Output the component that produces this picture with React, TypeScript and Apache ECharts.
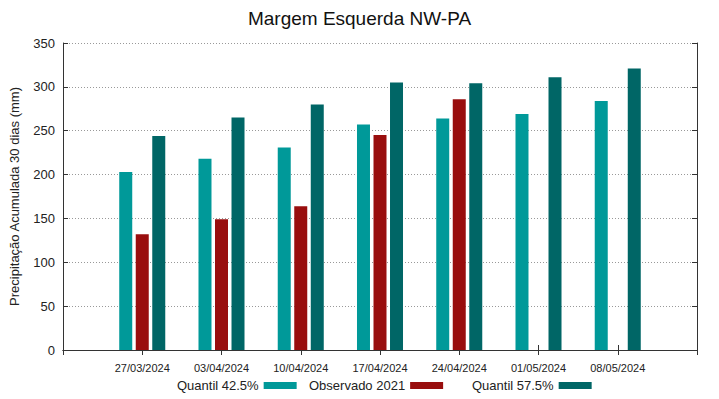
import React, { useEffect, useRef } from "react";
import * as echarts from "echarts";

const categories = ["", "27/03/2024", "03/04/2024", "10/04/2024", "17/04/2024", "24/04/2024", "01/05/2024", "08/05/2024", ""];
const quantil425 = [null, 203, 218, 231, 257, 264, 269, 284, null];
const observado2021 = [null, 132, 149, 164, 245, 286, null, null, null];
const quantil575 = [null, 244, 265, 280, 305, 304, 311, 321, null];
const yTicks = [0, 50, 100, 150, 200, 250, 300, 350];

const FONT = "Liberation Sans, Arial, sans-serif";
const C1 = "#009999";
const C2 = "#990e0e";
const C3 = "#006666";

export default function App() {
  const ref = useRef<HTMLDivElement>(null);
  useEffect(() => {
    if (!ref.current) return;
    const chart = echarts.init(ref.current, null, { renderer: "svg" });
    const legendBase = {
      orient: "horizontal",
      top: 379,
      align: "right",
      itemWidth: 33,
      itemHeight: 7,
      icon: "rect",
      textStyle: { fontFamily: FONT, fontSize: 13, color: "#222" },
      padding: 0,
    };
    chart.setOption({
      animation: false,
      textStyle: { fontFamily: FONT },
      title: {
        text: "Margem Esquerda NW-PA",
        left: "center",
        top: 4,
        textStyle: { fontFamily: FONT, fontSize: 19, fontWeight: "normal", color: "#111" },
      },
      legend: [
        { ...legendBase, left: 177, data: ["Quantil 42.5%"] },
        { ...legendBase, left: 309, data: ["Observado 2021"] },
        { ...legendBase, left: 472, data: ["Quantil 57.5%"] },
      ],
      grid: { left: 59, right: 22, top: 43, bottom: 49, containLabel: false },
      xAxis: [
        {
          type: "category",
          data: categories,
          boundaryGap: false,
          axisLine: { show: true, lineStyle: { color: "#333", width: 1 } },
          axisTick: { show: true, inside: true, length: 5, lineStyle: { color: "#333" } },
          axisLabel: { fontFamily: FONT, fontSize: 11, color: "#222", margin: 12 },
          splitLine: { show: false },
        },
        {
          type: "category",
          data: categories,
          boundaryGap: false,
          position: "top",
          axisLine: { show: true, lineStyle: { color: "#333", width: 1 } },
          axisTick: { show: true, inside: true, length: 5, lineStyle: { color: "#333" } },
          axisLabel: { show: false },
          splitLine: { show: false },
        },
      ],
      yAxis: [
        {
          type: "value",
          min: 0,
          max: 350,
          interval: 50,
          name: "Precipitação Acumulada 30 dias (mm)",
          nameLocation: "middle",
          nameGap: 42,
          nameTextStyle: { fontFamily: FONT, fontSize: 13, color: "#222" },
          axisLine: { show: true, lineStyle: { color: "#333", width: 1 } },
          axisTick: { show: true, inside: true, length: 5, lineStyle: { color: "#333" } },
          axisLabel: {
            fontFamily: FONT,
            fontSize: 13,
            color: "#222",
            margin: 8,
            formatter: (v: number) => (yTicks.includes(v) ? String(v) : ""),
          },
          splitLine: { show: true, lineStyle: { color: "#999", type: [1, 2], width: 1 } },
        },
        {
          type: "value",
          min: 0,
          max: 350,
          interval: 50,
          position: "right",
          axisLine: { show: true, lineStyle: { color: "#333", width: 1 } },
          axisTick: { show: true, inside: true, length: 5, lineStyle: { color: "#333" } },
          axisLabel: { show: false },
          splitLine: { show: false },
        },
      ],
      series: [
        {
          name: "Quantil 42.5%",
          type: "bar",
          data: quantil425,
          barWidth: 13,
          barGap: "27%",
          itemStyle: { color: C1 },
        },
        {
          name: "Observado 2021",
          type: "bar",
          data: observado2021,
          barWidth: 13,
          barGap: "27%",
          itemStyle: { color: C2 },
        },
        {
          name: "Quantil 57.5%",
          type: "bar",
          data: quantil575,
          barWidth: 13,
          barGap: "27%",
          itemStyle: { color: C3 },
        },
      ],
    });
    return () => chart.dispose();
  }, []);
  return <div ref={ref} style={{ width: 719, height: 399, position: "absolute", left: 0, top: 0, background: "#fff" }} />;
}
